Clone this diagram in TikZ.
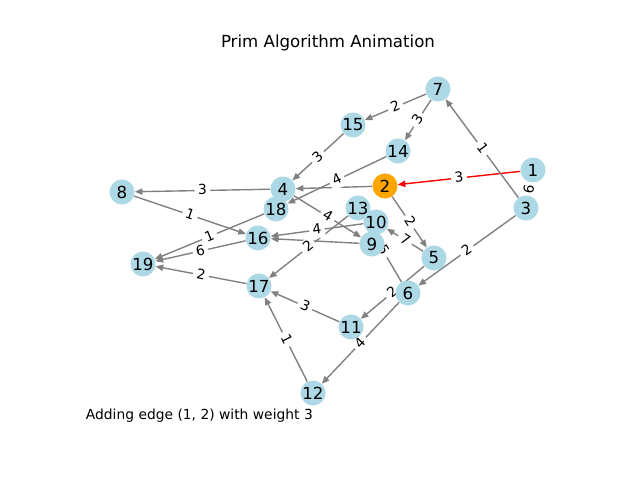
\documentclass[tikz,border=0pt]{standalone}
\usepackage{fontspec}
\setmainfont{DejaVu Sans}
\usetikzlibrary{arrows.meta}
\definecolor{lb}{HTML}{ADD8E6}
\definecolor{org}{HTML}{FFA500}
\pgfdeclarelayer{bg}
\pgfdeclarelayer{edges}
\pgfdeclarelayer{labels}
\pgfsetlayers{bg,edges,labels,main}
\newcommand\edgeW[4][]{%
  \begin{pgfonlayer}{edges}\draw[edg,#1] (#2) -- (#3);\end{pgfonlayer}%
  \begin{pgfonlayer}{labels}\path (#2) -- node[wl]{#4} (#3);\end{pgfonlayer}}
\newcommand\edgeN[3][]{%
  \begin{pgfonlayer}{edges}\draw[edg,#1] (#2) -- (#3);\end{pgfonlayer}}
\begin{document}
\begin{tikzpicture}[x=0.01in,y=-0.01in,
  vtx/.style={circle,fill=lb,minimum size=0.25in,inner sep=0pt,font=\fontsize{12}{14}\selectfont},
  edg/.style={draw=gray,line width=1pt,-{Triangle[length=5.5pt,width=4.5pt]}},
  wl/.style={fill=white,rounded corners=2pt,inner xsep=2.5pt,inner ysep=1.5pt,text height=7.5pt,text depth=1.5pt,font=\fontsize{10}{12}\selectfont,sloped,pos=0.5}]
\useasboundingbox (0,0) rectangle (640,480);
\begin{pgfonlayer}{bg}\fill[white] (0,0) rectangle (640,480);\end{pgfonlayer}
\node[font=\fontsize{12}{14}\selectfont] (title) at (328,43) {Prim Algorithm Animation};
\node[font=\fontsize{10}{12}\selectfont,anchor=west] (caption) at (81,416) {Adding edge (1, 2) with weight 3};
% nodes
\node[vtx] (n1) at (533,170) {1};
\node[vtx,fill=org] (n2) at (385,186) {2};
\node[vtx] (n3) at (526,208) {3};
\node[vtx] (n4) at (283,189) {4};
\node[vtx] (n5) at (434,258) {5};
\node[vtx] (n6) at (408,293) {6};
\node[vtx] (n7) at (438,89) {7};
\node[vtx] (n8) at (122,192) {8};
\node[vtx] (n9) at (372,244) {9};
\node[vtx] (n10) at (376,222) {10};
\node[vtx] (n11) at (351,327) {11};
\node[vtx] (n12) at (313,393) {12};
\node[vtx] (n13) at (358,208) {13};
\node[vtx] (n14) at (398,151) {14};
\node[vtx] (n15) at (353,125) {15};
\node[vtx] (n16) at (258,238) {16};
\node[vtx] (n17) at (259,286) {17};
\node[vtx] (n18) at (276,209) {18};
\node[vtx] (n19) at (143,264) {19};
% edges
\edgeW[draw=red]{n1}{n2}{3}
\edgeW{n3}{n1}{6}
\edgeW{n3}{n7}{1}
\edgeW{n7}{n15}{2}
\edgeW{n7}{n14}{3}
\edgeW{n15}{n4}{3}
\edgeW{n14}{n18}{4}
\edgeN{n2}{n4}
\edgeW{n4}{n8}{3}
\edgeW{n4}{n9}{4}
\edgeW{n8}{n16}{1}
\edgeW{n18}{n19}{1}
\edgeW{n16}{n19}{6}
\edgeW{n17}{n19}{2}
\edgeW{n10}{n16}{4}
\edgeN{n9}{n16}
\edgeW{n13}{n17}{2}
\edgeW{n2}{n5}{2}
\edgeW{n5}{n10}{7}
\edgeW{n6}{n13}{5}
\edgeW{n5}{n11}{2}
\edgeW{n3}{n6}{2}
\edgeW{n11}{n17}{3}
\edgeW{n6}{n12}{4}
\edgeW{n12}{n17}{1}
\end{tikzpicture}
\end{document}
